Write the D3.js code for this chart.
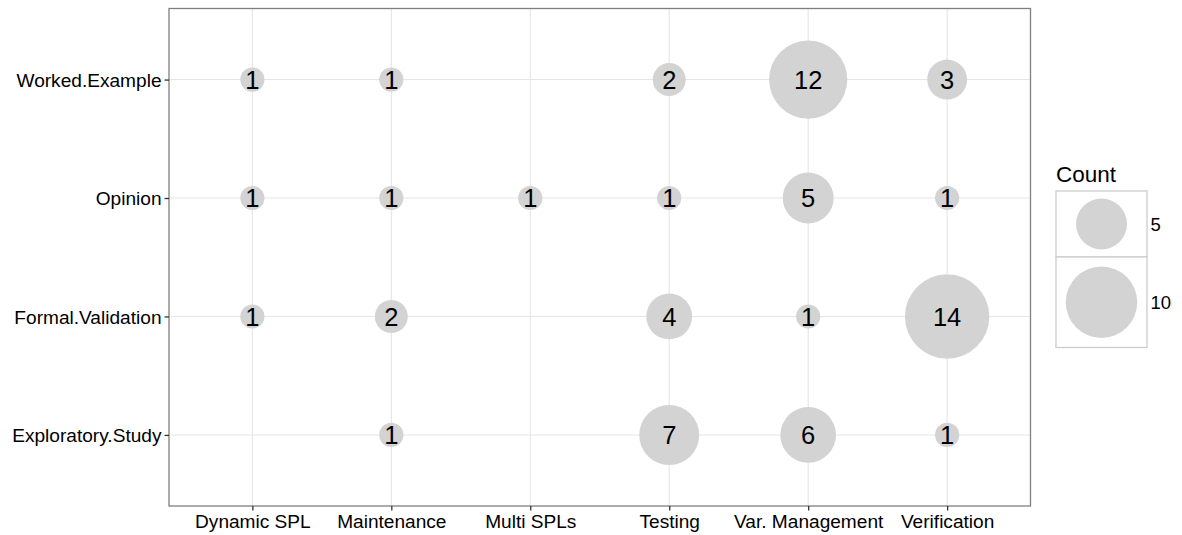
<!DOCTYPE html>
<html>
<head>
<meta charset="utf-8">
<script src="https://cdn.jsdelivr.net/npm/d3@7"></script>
<style>
html,body{margin:0;padding:0;background:#fff;}
svg{display:block;font-family:"Liberation Sans",Arial,Helvetica,sans-serif;}
</style>
</head>
<body>
<svg id="chart" width="1182" height="535"></svg>
<script>
// ---- data ----
const types = ["Dynamic SPL", "Maintenance", "Multi SPLs", "Testing", "Var. Management", "Verification"];
const methods = ["Exploratory.Study", "Formal.Validation", "Opinion", "Worked.Example"];
// counts per method, in the order of `types` (null = no bubble)
const workedExample    = [1, 1, null, 2, 12, 3];
const opinion          = [1, 1, 1, 1, 5, 1];
const formalValidation = [1, 2, null, 4, 1, 14];
const exploratoryStudy = [null, 1, null, 7, 6, 1];
const legendBreaks = [5, 10];
const legendTitle = "Count";

const seriesByMethod = {
  "Exploratory.Study": exploratoryStudy,
  "Formal.Validation": formalValidation,
  "Opinion": opinion,
  "Worked.Example": workedExample
};

const cells = [];
methods.forEach(m => {
  seriesByMethod[m].forEach((v, i) => {
    if (v !== null) cells.push({method: m, type: types[i], count: v});
  });
});

// ---- layout ----
const svg = d3.select("#chart");
const panel = {left: 169, right: 1030.5, top: 8.5, bottom: 506};

const x = d3.scalePoint().domain(types).range([panel.left, panel.right]).padding(0.6);
const y = d3.scalePoint().domain(methods).range([panel.bottom, panel.top]).padding(0.6);
const allCounts = cells.map(d => d.count);
const r = d3.scaleRadial().domain([d3.min(allCounts), d3.max(allCounts)]).range([12.1, 42.2]);

// panel background
svg.append("rect")
  .attr("x", panel.left).attr("y", panel.top)
  .attr("width", panel.right - panel.left).attr("height", panel.bottom - panel.top)
  .attr("fill", "#fff");

// grid
const grid = svg.append("g").attr("stroke", "#e5e5e5").attr("stroke-width", 1.1);
grid.selectAll("line.v").data(types).join("line")
  .attr("x1", d => x(d)).attr("x2", d => x(d))
  .attr("y1", panel.top).attr("y2", panel.bottom);
grid.selectAll("line.h").data(methods).join("line")
  .attr("y1", d => y(d)).attr("y2", d => y(d))
  .attr("x1", panel.left).attr("x2", panel.right);

// bubbles
svg.append("g").selectAll("circle").data(cells).join("circle")
  .attr("cx", d => x(d.type)).attr("cy", d => y(d.method))
  .attr("r", d => r(d.count))
  .attr("fill", "#d3d3d3");

// labels
svg.append("g").selectAll("text").data(cells).join("text")
  .attr("x", d => x(d.type)).attr("y", d => y(d.method))
  .attr("text-anchor", "middle").attr("dy", "0.36em")
  .attr("font-size", 25.5).attr("fill", "#000")
  .text(d => d.count);

// panel border
svg.append("rect")
  .attr("x", panel.left).attr("y", panel.top)
  .attr("width", panel.right - panel.left).attr("height", panel.bottom - panel.top)
  .attr("fill", "none").attr("stroke", "#7f7f7f").attr("stroke-width", 1.3);

// axes
const xAxis = svg.append("g").attr("transform", `translate(0,${panel.bottom})`)
  .call(d3.axisBottom(x).tickSize(4.5).tickPadding(3));
const yAxis = svg.append("g").attr("transform", `translate(${panel.left},0)`)
  .call(d3.axisLeft(y).tickSize(4.5).tickPadding(3));
[xAxis, yAxis].forEach(a => {
  a.select(".domain").remove();
  a.selectAll(".tick line").attr("stroke", "#333").attr("stroke-width", 1.3);
  a.selectAll(".tick text").attr("font-size", 19.1).attr("fill", "#000")
    .attr("font-family", "Liberation Sans, Arial, sans-serif");
});
xAxis.selectAll(".tick text").attr("y", 22).attr("dy", 0);
yAxis.selectAll(".tick text").attr("dy", "0.35em");

// legend
const leg = svg.append("g");
leg.append("text").attr("x", 1056).attr("y", 182)
  .attr("font-size", 22.5).attr("fill", "#000").text(legendTitle);
const keyLeft = 1056, keyWidth = 91;
const keyHeights = [66, 90.5];
let ky = 191;
legendBreaks.forEach((b, i) => {
  const h = keyHeights[i];
  leg.append("rect").attr("x", keyLeft).attr("y", ky).attr("width", keyWidth).attr("height", h)
    .attr("fill", "#fff").attr("stroke", "#cccccc").attr("stroke-width", 1.3);
  leg.append("circle").attr("cx", keyLeft + keyWidth / 2).attr("cy", ky + h / 2)
    .attr("r", r(b)).attr("fill", "#d3d3d3");
  leg.append("text").attr("x", keyLeft + keyWidth + 3.5).attr("y", ky + h / 2)
    .attr("dy", "0.36em").attr("font-size", 18.5).attr("fill", "#000").text(b);
  ky += h;
});
</script>
</body>
</html>
